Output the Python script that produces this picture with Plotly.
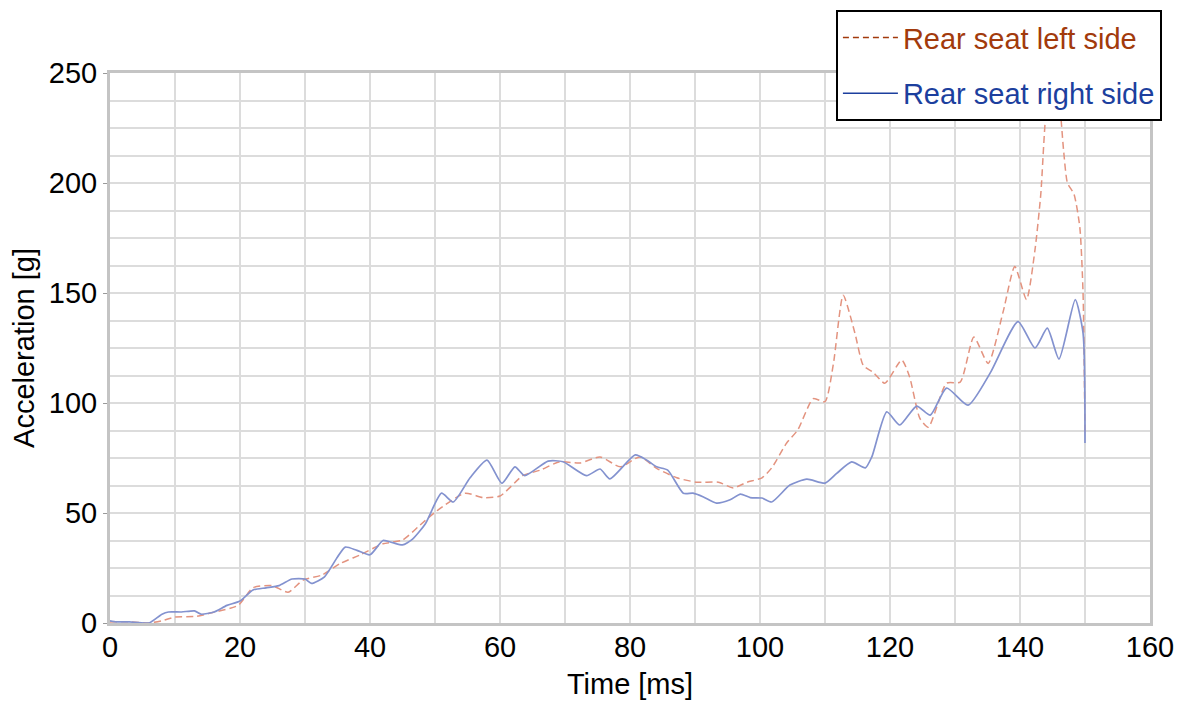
import plotly.graph_objects as go

# Rear seat right side (solid blue)
t_right = [0, 1, 3, 6, 8, 9, 11, 13, 14, 16, 18, 20, 22, 24, 26, 28, 30, 31, 33, 35, 36.2, 38, 40,
           42, 43.5, 45, 46.5, 48.5, 51, 52.8, 55.4, 58, 60.3, 62.3, 63.8, 67.4, 69.7, 73.3, 75.4,
           76.9, 80.8, 82.6, 84.1, 85.8, 88.2, 89.7, 91.3, 93.3, 95.4, 97, 98.5, 100.3, 101.8,
           104.6, 107.2, 110, 111.8, 114.1, 116.2, 117.2, 119.5, 121.5, 124.1, 126.2, 128.7,
           132, 135.4, 139.7, 142.3, 144.2, 146, 148.5, 149.7, 150]
v_right = [1, 0.5, 0.5, 0, 4, 5, 5, 5.5, 4, 5, 8, 10, 15, 16, 17, 20, 20, 18, 21, 30, 34.5, 33, 31,
           37.5, 36.5, 35.5, 38, 45, 59, 55, 66, 74, 63.5, 71, 67, 73.6, 73.3, 67, 70,
           65.5, 76.4, 74, 71, 69.5, 59, 59, 57.3, 54.5, 56, 58.6, 57, 56.8, 55,
           62.7, 65.4, 63.6, 68, 73.2, 70.5, 75.5, 96, 90, 98.6, 94.5, 106.8,
           99, 113.6, 137, 125, 134, 120, 147, 131.8, 81.8]

# Rear seat left side (dashed red)
t_left = [0, 3, 6, 8, 10, 13.3, 15.4, 19.7, 22, 24.9, 27.4, 29.7, 32.6, 35.4, 38.5, 42, 45, 47.7,
          50.3, 54.6, 57.4, 60, 63.5, 66.2, 69.2, 72.3, 75.4, 78.5, 81.5, 84.1, 87.2, 90.3, 93.6,
          95.9, 98, 100.3, 101.8, 104.1, 105.8, 108.2, 110, 111.3, 112.8, 114.6, 115.9, 117.4,
          119.2, 121.8, 123, 124.6, 125.9, 128.7, 130.8, 132.9, 135.1, 137.4, 139.2, 141, 142.3,
          143.2, 144, 145, 146, 146.7, 147.3, 148.3, 149.2, 149.7, 150]
v_left = [0.5, 0.5, 0, 1, 2.7, 3, 4.5, 8, 16, 17, 14, 19.5, 21.8, 27, 31, 36, 37.7, 44.5,
          51, 59, 57, 57.7, 67, 69.5, 73.3, 72.7, 75.5, 71, 75.5, 70.3, 66, 64, 64,
          61.4, 64, 66, 70.5, 81.8, 87.7, 102, 100.6, 118, 149, 131.8, 117, 114,
          109, 119.5, 112, 93, 89, 109, 109.5, 130, 118, 141.4, 162, 147, 169.5,
          195, 232, 248, 238, 215, 200, 195, 180, 150, 85]

FONT = "Liberation Sans, Arial, sans-serif"
GRID = "#dcdcdc"

fig = go.Figure()
fig.add_trace(go.Scatter(x=t_left, y=v_left, mode="lines", showlegend=False,
                         line=dict(color="#e3937f", width=1.5, dash="7px,4px", shape="spline",
                                   smoothing=0.6)))
fig.add_trace(go.Scatter(x=t_right, y=v_right, mode="lines", showlegend=False,
                         line=dict(color="#8392cf", width=1.7, shape="spline", smoothing=0.6)))

# legend entries (darker than the plotted lines, as in the original)
fig.add_trace(go.Scatter(x=[None], y=[None], mode="lines", legendgroup="l",
                         name='<span style="color:#a23a0c">Rear seat left side</span>',
                         line=dict(color="#a23a0c", width=1.5, dash="6px,4px")))
fig.add_trace(go.Scatter(x=[None], y=[None], mode="lines", legendgroup="r",
                         name='<span style="color:#1c3f9e">Rear seat right side</span>',
                         line=dict(color="#1c3f9e", width=1.5)))

fig.update_layout(
    width=1189, height=707,
    margin=dict(l=102, r=47, t=65, b=92, autoexpand=False),
    paper_bgcolor="white", plot_bgcolor="white",
    font=dict(family=FONT, size=29, color="black"),
    showlegend=True,
    legend=dict(x=0.698, y=0.997, xref="paper", yref="container",
                xanchor="left", yanchor="top",
                bgcolor="white", bordercolor="black", borderwidth=2,
                font=dict(family=FONT, size=29), itemwidth=55,
                traceorder="grouped", tracegroupgap=15),
)
fig.update_xaxes(
    range=[0, 160], dtick=20, showgrid=True, gridcolor=GRID, gridwidth=1.5,
    minor=dict(dtick=10, showgrid=True, gridcolor=GRID, gridwidth=1.5),
    showline=True, linecolor="#c4c4c4", linewidth=3, mirror=True,
    zeroline=False, ticks="", ticklabelstandoff=-4,
    title=dict(text="Time [ms]", standoff=12, font=dict(size=29)),
)
fig.update_yaxes(
    range=[0, 250], dtick=50, showgrid=True, gridcolor=GRID, gridwidth=1.5,
    minor=dict(dtick=12.5, showgrid=True, gridcolor=GRID, gridwidth=1.5),
    showline=True, linecolor="#c4c4c4", linewidth=3, mirror=True,
    zeroline=False, ticks="outside", ticklen=4, tickcolor="#999999",
    title=dict(text="Acceleration [g]", standoff=6, font=dict(size=29)),
)

fig.write_html("out.html")
